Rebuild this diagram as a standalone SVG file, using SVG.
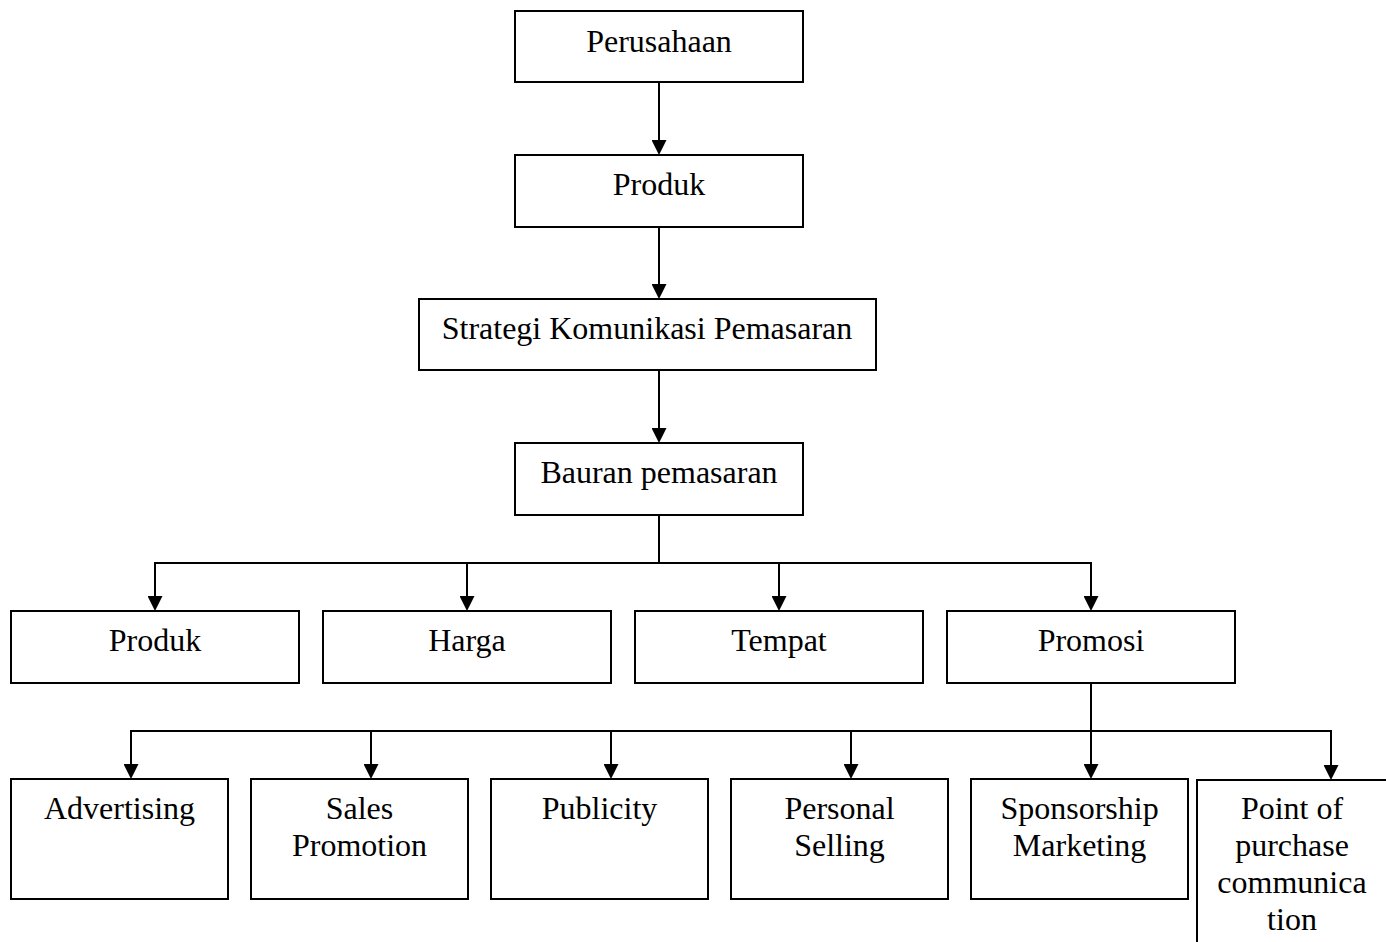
<svg xmlns="http://www.w3.org/2000/svg" width="1386" height="942" viewBox="0 0 1386 942">
<style>
.box{fill:#fff;stroke:#000;stroke-width:2}
.con{fill:none;stroke:#000;stroke-width:2}
.arr{marker-end:url(#ah)}
text{font-family:"Liberation Serif","Times New Roman",serif;font-size:32px;fill:#000;text-anchor:middle}
</style>
<defs>
<marker id="ah" viewBox="0 0 15 15" refX="7" refY="7.5" markerWidth="15" markerHeight="15" markerUnits="userSpaceOnUse" orient="auto">
<path d="M0,0 L15,7.5 L0,15 Z" fill="#000"/>
</marker>
</defs>
<rect width="1386" height="942" fill="#fff"/>
<g id="connectors">
<line class="con arr" x1="659" y1="82" x2="659" y2="147"/>
<line class="con arr" x1="659" y1="227" x2="659" y2="291"/>
<line class="con arr" x1="659" y1="370" x2="659" y2="435"/>
<polyline class="con" points="659,515 659,563"/>
<line class="con" x1="154" y1="563" x2="1092" y2="563"/>
<line class="con arr" x1="155" y1="563" x2="155" y2="603"/>
<line class="con arr" x1="467" y1="563" x2="467" y2="603"/>
<line class="con arr" x1="779" y1="563" x2="779" y2="603"/>
<line class="con arr" x1="1091" y1="563" x2="1091" y2="603"/>
<polyline class="con" points="1091,683 1091,731"/>
<line class="con" x1="130" y1="731" x2="1332" y2="731"/>
<line class="con arr" x1="131" y1="731" x2="131" y2="771"/>
<line class="con arr" x1="371" y1="731" x2="371" y2="771"/>
<line class="con arr" x1="611" y1="731" x2="611" y2="771"/>
<line class="con arr" x1="851" y1="731" x2="851" y2="771"/>
<line class="con arr" x1="1091" y1="731" x2="1091" y2="771"/>
<line class="con arr" x1="1331" y1="731" x2="1331" y2="772"/>
</g>
<g id="perusahaan"><rect class="box" x="515" y="11" width="288" height="71"/><text x="659" y="52">Perusahaan</text></g>
<g id="produk-top"><rect class="box" x="515" y="155" width="288" height="72"/><text x="659" y="195">Produk</text></g>
<g id="strategi"><rect class="box" x="419" y="299" width="457" height="71"/><text x="647" y="339">Strategi Komunikasi Pemasaran</text></g>
<g id="bauran"><rect class="box" x="515" y="443" width="288" height="72"/><text x="659" y="483">Bauran pemasaran</text></g>
<g id="produk"><rect class="box" x="11" y="611" width="288" height="72"/><text x="155" y="651">Produk</text></g>
<g id="harga"><rect class="box" x="323" y="611" width="288" height="72"/><text x="467" y="651">Harga</text></g>
<g id="tempat"><rect class="box" x="635" y="611" width="288" height="72"/><text x="779" y="651">Tempat</text></g>
<g id="promosi"><rect class="box" x="947" y="611" width="288" height="72"/><text x="1091" y="651">Promosi</text></g>
<g id="advertising"><rect class="box" x="11" y="779" width="217" height="120"/><text x="119.5" y="819">Advertising</text></g>
<g id="sales-promotion"><rect class="box" x="251" y="779" width="217" height="120"/><text x="359.5" y="819">Sales</text><text x="359.5" y="856">Promotion</text></g>
<g id="publicity"><rect class="box" x="491" y="779" width="217" height="120"/><text x="599.5" y="819">Publicity</text></g>
<g id="personal-selling"><rect class="box" x="731" y="779" width="217" height="120"/><text x="839.5" y="819">Personal</text><text x="839.5" y="856">Selling</text></g>
<g id="sponsorship"><rect class="box" x="971" y="779" width="217" height="120"/><text x="1079.5" y="819">Sponsorship</text><text x="1079.5" y="856">Marketing</text></g>
<g id="point-of-purchase"><rect class="box" x="1197" y="780" width="220" height="200"/><text x="1292" y="819">Point of</text><text x="1292" y="856">purchase</text><text x="1292" y="893">communica</text><text x="1292" y="930">tion</text></g>
</svg>
